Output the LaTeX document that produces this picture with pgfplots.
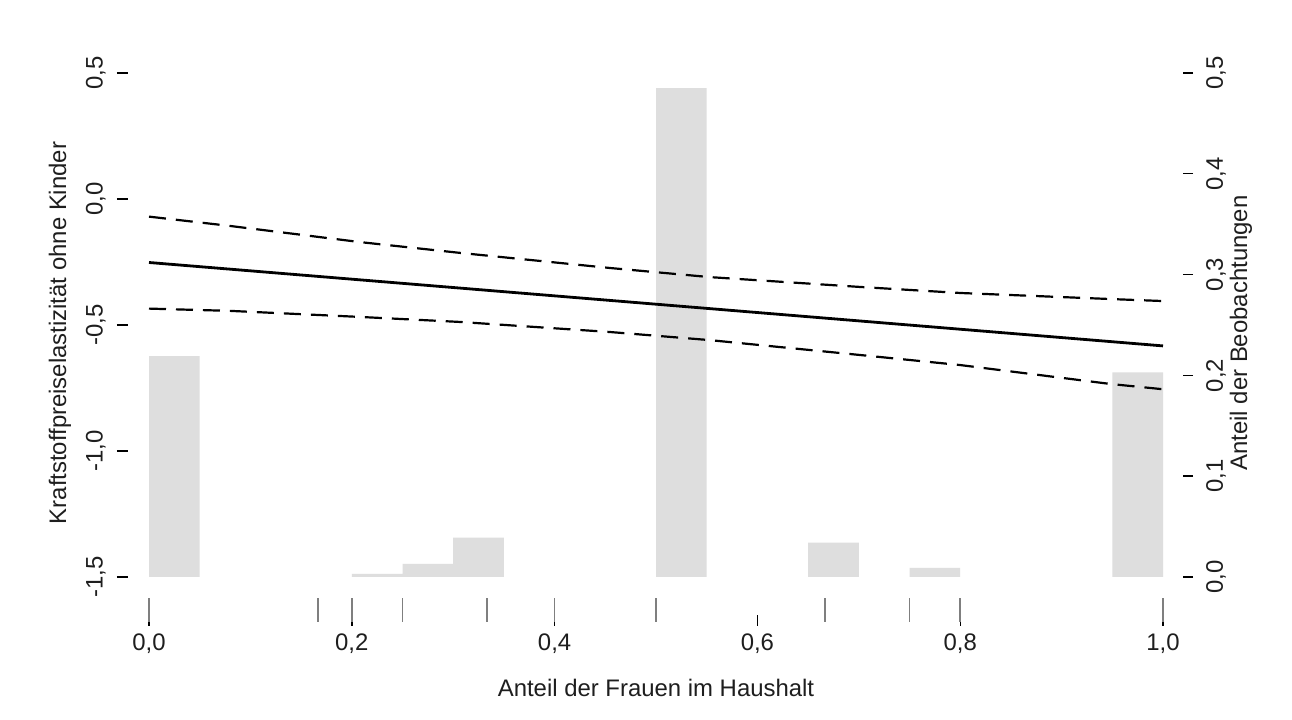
\documentclass[border=0pt]{standalone}
\usepackage{pgfplots}
\pgfplotsset{compat=1.18}
\usepackage{fontspec}
\setmainfont{Liberation Sans}
\definecolor{bargray}{HTML}{DEDEDE}
\definecolor{ruggray}{HTML}{7F7F7F}
\definecolor{txt}{HTML}{1E1E1E}

\pgfplotstableread{
x h
0.025 0.219
0.225 0.003
0.275 0.013
0.325 0.039
0.525 0.485
0.675 0.034
0.775 0.009
0.975 0.203
}\histbars

\pgfplotstableread{
x y
0 -0.252
1 -0.583
}\estline

\pgfplotstableread{
x y
0.000 -0.070
0.080 -0.107
0.208 -0.171
0.307 -0.214
0.455 -0.274
0.553 -0.310
0.701 -0.349
0.800 -0.373
0.948 -0.397
1.000 -0.405
}\bandup

\pgfplotstableread{
x y
0.000 -0.435
0.080 -0.444
0.208 -0.468
0.307 -0.488
0.455 -0.528
0.553 -0.560
0.701 -0.619
0.800 -0.659
0.948 -0.734
1.000 -0.755
}\banddown

\pgfplotstableread{
x y
0.0000 -1.631
0.1667 -1.631
0.2000 -1.631
0.2500 -1.631
0.3333 -1.631
0.4000 -1.631
0.5000 -1.631
0.6667 -1.631
0.7500 -1.631
0.8000 -1.631
1.0000 -1.631
}\rugdata

\begin{document}
\fontsize{24}{29}\selectfont
\begin{tikzpicture}[x=1bp,y=1bp]
\useasboundingbox (0,0) rectangle (1292,720);
\fill[white] (0,0) rectangle (1292,720);
% right axis: histogram
\begin{axis}[
  at={(128bp,105bp)}, anchor=south west,
  scale only axis, width=1055bp, height=542bp,
  xmin=-0.02071, xmax=1.01972,
  ymin=-0.0377, ymax=0.5,
  axis line style={draw=none},
  hide x axis,
  ytick pos=right, yticklabel pos=right,
  ytick={0,0.1,0.2,0.3,0.4,0.5},
  yticklabels={{0,0},{0,1},{0,2},{0,3},{0,4},{0,5}},
  tick align=outside, major tick length=10bp,
  tick style={black, line width=1.4bp},
  yticklabel style={rotate=90, anchor=north, inner sep=0pt, text=txt,
     font=\fontsize{24}{29}\selectfont, yshift=-13bp},
]
\addplot[ybar, bar width=0.05, bar shift=0pt, fill=bargray, draw=none] table[x=x,y=h] {\histbars};
\end{axis}
% left axis: estimates
\begin{axis}[
  at={(128bp,105bp)}, anchor=south west,
  scale only axis, width=1055bp, height=542bp,
  xmin=-0.02071, xmax=1.01972,
  ymin=-1.65079, ymax=0.5,
  axis line style={draw=none},
  clip=false,
  xtick pos=bottom, ytick pos=left,
  xtick={0,0.2,0.4,0.6,0.8,1},
  xticklabels={{0,0},{0,2},{0,4},{0,6},{0,8},{1,0}},
  ytick={-1.5,-1,-0.5,0,0.5},
  yticklabels={{-1,5},{-1,0},{-0,5},{0,0},{0,5}},
  tick align=outside, major tick length=11bp,
  tick style={black, line width=1.4bp},
  yticklabel style={rotate=90, anchor=south, inner sep=0pt, text=txt,
     font=\fontsize{24}{29}\selectfont, yshift=11bp},
  xticklabel style={anchor=north, inner sep=0pt, text=txt,
     font=\fontsize{24}{29}\selectfont, yshift=-8bp},
]
\addplot[only marks, mark=|, mark size=12bp, mark options={ruggray, line width=1.6bp}] table[x=x,y=y] {\rugdata};
\addplot[black, line width=2.2bp, dash pattern=on 17bp off 10bp] table[x=x,y=y] {\bandup};
\addplot[black, line width=2.2bp, dash pattern=on 17bp off 10bp] table[x=x,y=y] {\banddown};
\addplot[black, line width=2.8bp] table[x=x,y=y] {\estline};
\end{axis}
\node[rotate=90, text=txt, anchor=center] at (60,387) {Kraftstoffpreiselastizität ohne Kinder};
\node[rotate=90, text=txt, anchor=center] at (1241,387) {Anteil der Beobachtungen};
\node[text=txt, anchor=center] at (656,32) {Anteil der Frauen im Haushalt};
\end{tikzpicture}
\end{document}
